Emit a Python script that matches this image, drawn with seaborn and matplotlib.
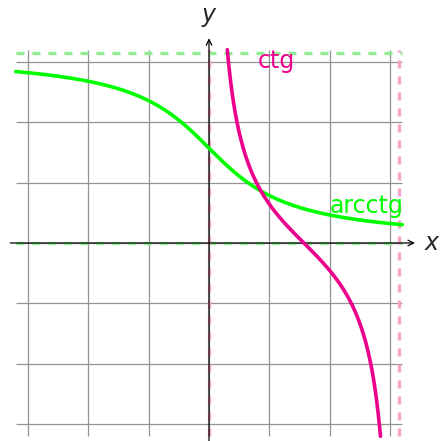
import numpy as np
import pandas as pd
import matplotlib
matplotlib.use("Agg")
import matplotlib.pyplot as plt
import seaborn as sns

# dados: funções ctg e arcctg
grid_ticks = [-3, -2, -1, 0, 1, 2, 3]
lim = 3.2
x_arc = np.linspace(-lim, lim, 400)
y_arc = np.pi / 2 - np.arctan(x_arc)          # arcctg
x_ctg = np.linspace(np.pi / 2 - np.arctan(lim), np.pi / 2 + np.arctan(lim), 400)
y_ctg = 1 / np.tan(x_ctg)                      # ctg

df = pd.concat([
    pd.DataFrame({"x": x_arc, "y": y_arc, "f": "arcctg"}),
    pd.DataFrame({"x": x_ctg, "y": y_ctg, "f": "ctg"}),
])

sns.set_style("white")
fig = plt.figure(figsize=(4.41, 4.41), dpi=100)
ax = fig.add_axes([0, 0, 1, 1])
ax.axis("off")

# grade
ax.hlines(grid_ticks, -lim, lim, color="#939393", lw=0.9, zorder=1)
ax.vlines(grid_ticks, -lim, lim, color="#939393", lw=0.9, zorder=1)

# assíntotas
green_l = "#8fee8f"
pink_l = "#f5a3c8"
ax.hlines([0, np.pi], -lim, lim, color=green_l, lw=2.4, ls=(0, (2.4, 2.4)), zorder=2)
ax.vlines([0, np.pi], -lim, lim, color=pink_l, lw=2.4, ls=(0, (2.4, 2.4)), zorder=2)

# eixos
ax.annotate("", xy=(3.41, 0), xytext=(-3.29, 0),
            arrowprops=dict(arrowstyle="->", color="black", lw=0.9, shrinkA=0, shrinkB=0), zorder=3)
ax.annotate("", xy=(0, 3.39), xytext=(0, -3.4),
            arrowprops=dict(arrowstyle="->", color="black", lw=0.9, shrinkA=0, shrinkB=0), zorder=3)
ax.text(3.69, 0, "x", fontsize=17, style="italic", ha="center", va="center")
ax.text(0, 3.77, "y", fontsize=17, style="italic", ha="center", va="center")

sns.lineplot(data=df, x="x", y="y", hue="f", sort=False,
             palette={"arcctg": "#00ff00", "ctg": "#ec008c"},
             lw=2.6, legend=False, ax=ax, zorder=4)
ax.set_xlim(-209 / 60.4, 232 / 60.4)
ax.set_ylim(-198 / 60.4, 243 / 60.4)

ax.text(0.81, 2.9, "ctg", color="#ec008c", fontsize=17, ha="left", va="baseline")
ax.text(3.22, 0.5, "arcctg", color="#00ff00", fontsize=17, ha="right", va="baseline")

plt.savefig("out.png", dpi=100)
